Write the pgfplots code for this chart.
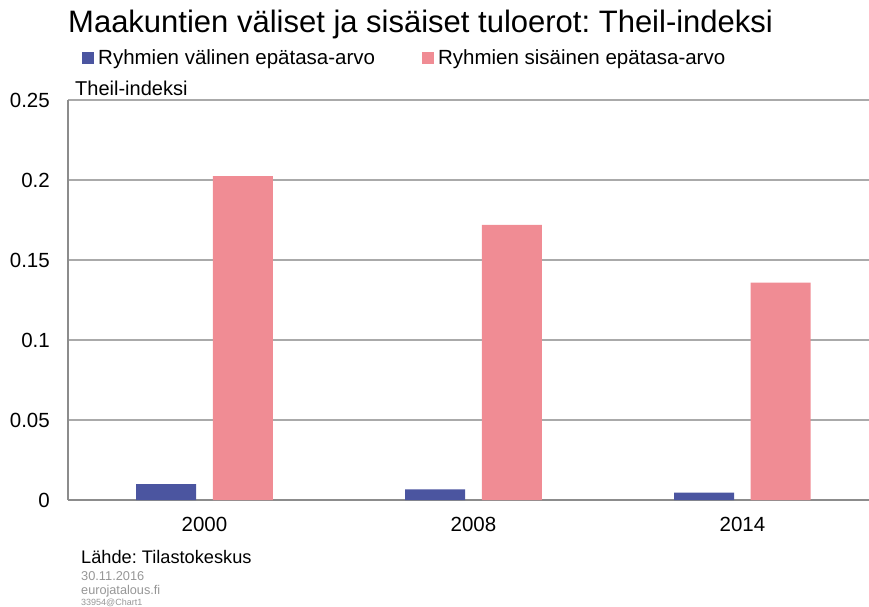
\documentclass[border=0pt]{standalone}
\usepackage{pgfplots}
\pgfplotsset{compat=1.18}
\usepackage{fontspec}
\setmainfont{Liberation Sans}
\frenchspacing
\definecolor{cblue}{RGB}{75,85,160}
\definecolor{cpink}{RGB}{240,140,148}
\definecolor{gridc}{RGB}{170,170,170}
\definecolor{axc}{RGB}{140,140,140}
\definecolor{footc}{RGB}{150,150,150}
\begin{document}
\begin{tikzpicture}[x=1pt,y=1pt]
\useasboundingbox (0,0) rectangle (869,-606);
\begin{axis}[
  at={(68pt,-500pt)}, anchor=south west,
  scale only axis, width=801pt, height=400pt,
  xmin=-0.5074, xmax=2.4706, ymin=0, ymax=0.25,
  axis x line=bottom, axis y line=left,
  axis line style={-, draw=axc, line width=1.2pt},
  xtick={0,1,2}, xticklabels={2000,2008,2014},
  ytick={0,0.05,0.1,0.15,0.2,0.25},
  yticklabels={0,0.05,0.1,0.15,0.2,0.25},
  /pgf/number format/assume math mode=true,
  major tick length=0pt,
  ymajorgrids, major grid style={draw=gridc, line width=1.2pt},
  tick label style={font=\fontsize{20.5}{24}\selectfont, inner sep=0pt},
  yticklabel style={anchor=east, xshift=-18pt},
  xticklabel style={anchor=north, yshift=-17pt},
  ybar, bar width=60pt,
  legend columns=2,
  legend style={at={(0.0175,1.105)}, anchor=west, draw=none, fill=none,
    inner sep=0pt, font=\fontsize{20.5}{24}\selectfont,
    nodes={inner sep=0pt, anchor=west},
    /tikz/every even column/.append style={column sep=47pt},
    /tikz/every odd column/.append style={column sep=4pt}},
  legend image code/.code={\fill[#1,draw=none] (0pt,-6pt) rectangle (12pt,6pt);},
]
\addplot[fill=cblue, draw=none, bar shift=-38.3pt] coordinates {(0,0.0100) (1,0.0067) (2,0.0046)};
\addplot[fill=cpink, draw=none, bar shift=38.3pt] coordinates {(0,0.2025) (1,0.1719) (2,0.1358)};
\legend{Ryhmien välinen epätasa-arvo, Ryhmien sisäinen epätasa-arvo}
\end{axis}
\node[anchor=base west, inner sep=0, font=\fontsize{31}{36}\selectfont] at (68,-32) {Maakuntien väliset ja sisäiset tuloerot: Theil-indeksi};
\node[anchor=base west, inner sep=0, font=\fontsize{20}{24}\selectfont] at (75,-95) {Theil-indeksi};
\node[anchor=base west, inner sep=0, font=\fontsize{18.2}{22}\selectfont] at (81,-563) {Lähde: Tilastokeskus};
\node[anchor=base west, inner sep=0, text=footc, font=\fontsize{12.8}{15}\selectfont] at (81,-580) {30.11.2016};
\node[anchor=base west, inner sep=0, text=footc, font=\fontsize{12.7}{15}\selectfont] at (81,-594) {eurojatalous.fi};
\node[anchor=base west, inner sep=0, text=footc, font=\fontsize{9}{11}\selectfont] at (81,-605) {33954@Chart1};
\end{tikzpicture}
\end{document}
